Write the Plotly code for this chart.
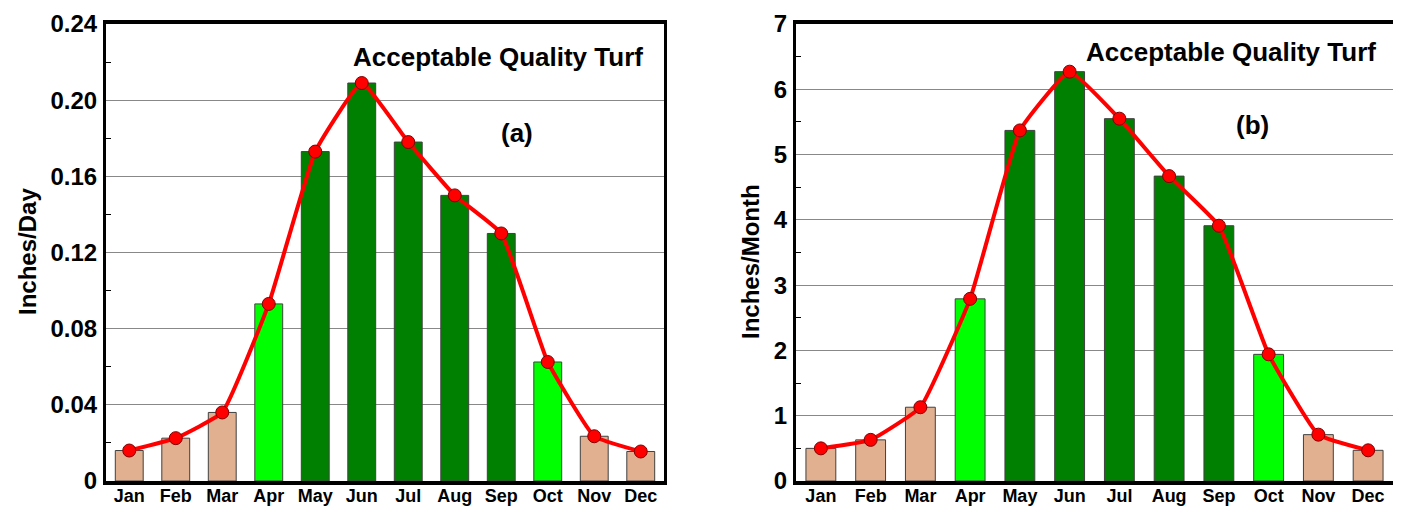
import plotly.graph_objects as go

months = ["Jan", "Feb", "Mar", "Apr", "May", "Jun", "Jul", "Aug", "Sep", "Oct", "Nov", "Dec"]
inches_per_day = [0.016, 0.0225, 0.036, 0.093, 0.173, 0.209, 0.178, 0.150, 0.130, 0.0625, 0.0235, 0.0155]
inches_per_month = [0.50, 0.63, 1.13, 2.79, 5.37, 6.27, 5.55, 4.67, 3.91, 1.94, 0.71, 0.47]

TAN = "#E0B090"
LIME = "#00FF00"
DKGREEN = "#008000"
bar_colors = [TAN, TAN, TAN, LIME, DKGREEN, DKGREEN, DKGREEN, DKGREEN, DKGREEN, LIME, TAN, TAN]

OFF = 8  # page body margin
W, H = 1401 - OFF, 511 - OFF
FONT = "Liberation Sans, Arial, sans-serif"

def px_x(p):
    return (p - OFF) / W

def px_y(p):
    return 1 - (p - OFF) / H

fig = go.Figure()

for vals, xa, ya in [(inches_per_day, "x", "y"), (inches_per_month, "x2", "y2")]:
    fig.add_trace(go.Bar(
        x=months, y=vals, xaxis=xa, yaxis=ya, width=0.6,
        marker=dict(color=bar_colors, line=dict(color="#404040", width=1)),
        showlegend=False, hoverinfo="skip"))
    fig.add_trace(go.Scatter(
        x=months, y=vals, xaxis=xa, yaxis=ya, mode="lines+markers",
        line=dict(color="#FF0000", width=4, shape="spline", smoothing=0.35),
        marker=dict(color="#FF0000", size=13, line=dict(color="#800000", width=1)),
        showlegend=False))

ydom = [px_y(481), px_y(24)]

xaxis_common = dict(
    type="category", range=[-0.5, 11.5], showline=True, linecolor="black",
    linewidth=4, mirror=True, ticks="", showgrid=False, zeroline=False,
    automargin=False,
    tickfont=dict(family=FONT, size=18, color="black", weight="bold"),
    ticklabelstandoff=-5)

yaxis_common = dict(
    showline=True, linecolor="black", linewidth=3, mirror=True, ticks="",
    showgrid=True, gridcolor="#888888", gridwidth=1, zeroline=False,
    automargin=False,
    tickfont=dict(family=FONT, size=24, color="black", weight="bold"),
    ticklabelstandoff=1)

fig.update_layout(
    width=W, height=H, margin=dict(l=0, r=0, t=0, b=0, autoexpand=False),
    paper_bgcolor="white", plot_bgcolor="white", bargap=0.4,
    xaxis=dict(domain=[px_x(106), px_x(664)], anchor="y", **xaxis_common),
    yaxis=dict(domain=ydom, anchor="x", range=[0, 0.24],
               tickvals=[0, 0.04, 0.08, 0.12, 0.16, 0.20, 0.24],
               ticktext=["0", "0.04", "0.08", "0.12", "0.16", "0.20", "0.24"],
               minor=dict(tickvals=[0.02, 0.06, 0.10, 0.14, 0.18, 0.22], ticks="inside",
                          ticklen=5, tickcolor="black", tickwidth=1, showgrid=False),
               **yaxis_common),
    xaxis2=dict(domain=[px_x(796), px_x(1393)], anchor="y2", **xaxis_common),
    yaxis2=dict(domain=ydom, anchor="x2", range=[0, 7],
                tickvals=[0, 1, 2, 3, 4, 5, 6, 7],
                minor=dict(tickvals=[0.5, 1.5, 2.5, 3.5, 4.5, 5.5, 6.5], ticks="inside",
                           ticklen=5, tickcolor="black", tickwidth=1, showgrid=False),
                **yaxis_common),
)

def ann(x, y, text, size, angle=0, xanchor="center"):
    fig.add_annotation(x=px_x(x), y=px_y(y), xref="paper", yref="paper", text=text,
                       showarrow=False, textangle=angle, xanchor=xanchor, yanchor="middle",
                       font=dict(family=FONT, size=size, color="black", weight="bold"))

ann(645, 57, "Acceptable Quality Turf", 26, xanchor="right")
ann(517, 133, "(a)", 26)
ann(27, 252, "Inches/Day", 24, angle=-90)

ann(1378, 52, "Acceptable Quality Turf", 26, xanchor="right")
ann(1252, 125, "(b)", 26)
ann(750, 262, "Inches/Month", 24, angle=-90)

fig.write_html("out.html")
